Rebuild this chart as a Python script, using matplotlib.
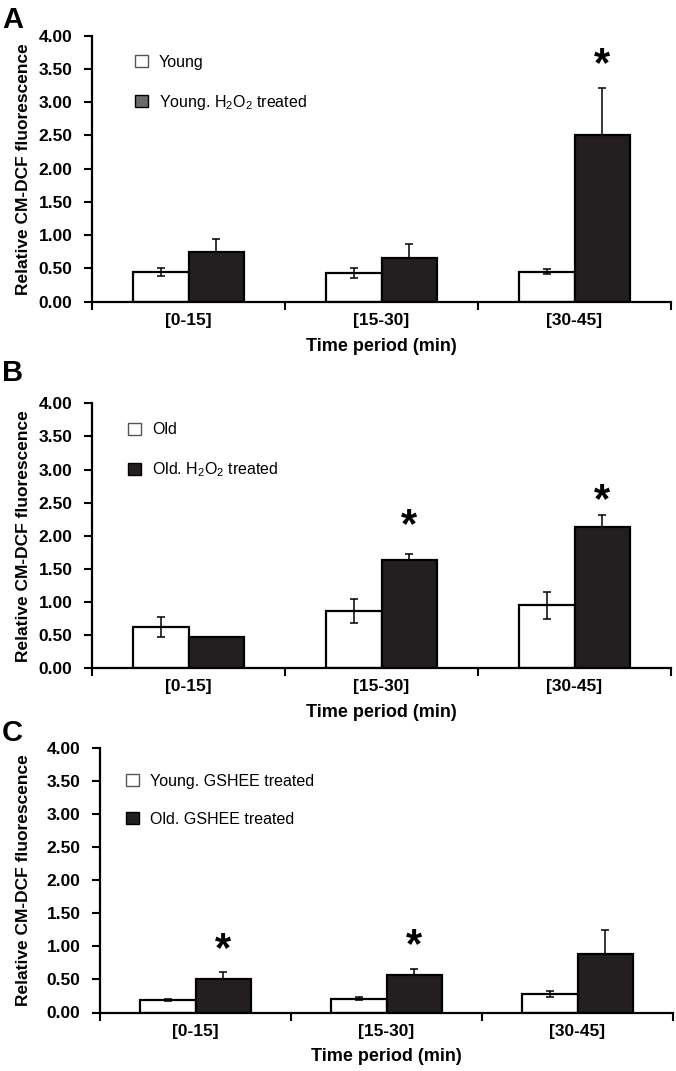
import matplotlib
matplotlib.use("Agg")
import matplotlib.pyplot as plt
from matplotlib.patches import Patch
import numpy as np

plt.rcParams['font.family'] = ['Liberation Sans', 'DejaVu Sans']
plt.rcParams['mathtext.fontset'] = 'custom'
plt.rcParams['mathtext.rm'] = 'Liberation Sans'

# ---------------- data ----------------
categories = ["[0-15]", "[15-30]", "[30-45]"]
yticks = [0.0, 0.5, 1.0, 1.5, 2.0, 2.5, 3.0, 3.5, 4.0]

# Panel A
a_labels = ["Young", "Young. H$_2$O$_2$ treated"]
a_ctrl = [0.45, 0.43, 0.45]
a_ctrl_err = [0.06, 0.08, 0.04]
a_trt = [0.74, 0.66, 2.51]
a_trt_err = [0.20, 0.21, 0.71]
a_star = [None, None, 3.72]

# Panel B
b_labels = ["Old", "Old. H$_2$O$_2$ treated"]
b_ctrl = [0.63, 0.86, 0.95]
b_ctrl_err = [0.15, 0.18, 0.20]
b_trt = [0.47, 1.64, 2.13]
b_trt_err = [0.01, 0.09, 0.18]
b_star = [None, 2.31, 2.70]

# Panel C
c_labels = ["Young. GSHEE treated", "Old. GSHEE treated"]
c_ctrl = [0.19, 0.21, 0.28]
c_ctrl_err = [0.02, 0.02, 0.05]
c_trt = [0.51, 0.56, 0.89]
c_trt_err = [0.10, 0.10, 0.36]
c_star = [1.12, 1.17, None]

panels = [
    ("A", a_labels, a_ctrl, a_ctrl_err, a_trt, a_trt_err, a_star, "#6a6a6a"),
    ("B", b_labels, b_ctrl, b_ctrl_err, b_trt, b_trt_err, b_star, "#231f20"),
    ("C", c_labels, c_ctrl, c_ctrl_err, c_trt, c_trt_err, c_star, "#231f20"),
]

W, H = 676, 1071
fig = plt.figure(figsize=(W / 100, H / 100), dpi=100)

# axes boxes in pixels: left, right, top, bottom
boxes = [(92, 671, 35.7, 301.7), (92, 671, 403.3, 668.3), (100, 673, 747.7, 1012.5)]
letter_y = [20, 373, 733]
legend_x = [135, 128, 126]
legend_top = [19, 19, 26]

dark = "#231f20"
bw = 0.29
x = np.arange(len(categories))

for (letter, labels, ctrl, cerr, trt, terr, star, legcol), (l, r, t, b), ly, lx, ltop in zip(
        panels, boxes, letter_y, legend_x, legend_top):
    ax = fig.add_axes([l / W, 1 - b / H, (r - l) / W, (b - t) / H])
    ax.bar(x - bw / 2, ctrl, bw, color="white", edgecolor="black", linewidth=1.6, zorder=2)
    ax.bar(x + bw / 2, trt, bw, color=dark, edgecolor="black", linewidth=1.6, zorder=2)
    ax.errorbar(x - bw / 2, ctrl, yerr=cerr, fmt="none", ecolor="black", elinewidth=1.1,
                capsize=3, capthick=1.1, zorder=3)
    ax.errorbar(x + bw / 2, trt, yerr=terr, fmt="none", ecolor="black", elinewidth=1.1,
                capsize=3, capthick=1.1, zorder=1)
    for xi, s in zip(x, star):
        if s is not None:
            ax.annotate("*", xy=(xi + bw / 2, s), xytext=(0, -16), textcoords="offset points",
                        ha="center", va="baseline", fontsize=30, fontweight="bold")

    ax.set_xlim(-0.5, 2.5)
    ax.set_ylim(0, 4)
    ax.set_yticks(yticks)
    ax.set_yticklabels([f"{v:.2f}" for v in yticks], fontweight="bold", fontsize=12.5)
    ax.set_xticks([-0.5, 0.5, 1.5, 2.5])
    ax.set_xticklabels([])
    ax.set_xticks(x, minor=True)
    ax.set_xticklabels(categories, minor=True, fontweight="bold", fontsize=12.5)
    ax.tick_params(axis="x", which="major", direction="out", length=6, width=1.5)
    ax.tick_params(axis="x", which="minor", length=0, pad=8)
    ax.tick_params(axis="y", direction="out", length=6, width=1.5, pad=8)
    for sp in ["top", "right"]:
        ax.spines[sp].set_visible(False)
    for sp in ["left", "bottom"]:
        ax.spines[sp].set_linewidth(1.6)
    ax.set_xlabel("Time period (min)", fontweight="bold", fontsize=13)
    ax.xaxis.set_label_coords(0.5, -0.135)

    fig.text(24 / W, 1 - ((t + b) / 2) / H, "Relative CM-DCF fluorescence", rotation=90,
             ha="center", va="center", fontweight="bold", fontsize=12.5)
    fig.text(2 / W, 1 - ly / H, letter, ha="left", va="center", fontweight="bold", fontsize=21)

    handles = [Patch(facecolor="white", edgecolor="#555555", linewidth=1.0),
               Patch(facecolor=legcol, edgecolor="black", linewidth=1.0)]
    ax.legend(handles, labels, loc="upper left",
              bbox_to_anchor=((lx - l) / (r - l), 1 - ltop / (b - t)),
              frameon=False, fontsize=11.5, handlelength=0.8, handleheight=0.8,
              handletextpad=0.7, labelspacing=1.45, borderaxespad=0, borderpad=0)

fig.savefig("out.png", dpi=100)
